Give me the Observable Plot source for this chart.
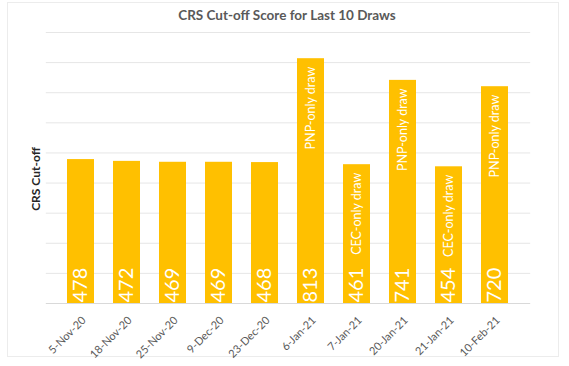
<!DOCTYPE html>
<html>
<head>
<meta charset="utf-8">
<script src="https://cdn.jsdelivr.net/npm/d3@7"></script>
<script src="https://cdn.jsdelivr.net/npm/@observablehq/plot@0.6"></script>
<style>
  html, body { margin: 0; padding: 0; background: #fff; }
  #wrap { position: relative; width: 569px; height: 366px; overflow: hidden; font-family: Lato, "Open Sans", sans-serif; }
  #frame { position: absolute; left: 7px; top: 2px; width: 552px; height: 355px; border: 1px solid #ececec; box-sizing: border-box; }
  #title { position: absolute; left: 0; top: 0; width: 574px; height: 30px; line-height: 30px; text-align: center; font-size: 13.5px; font-weight: bold; color: #595959; }
  #ylabel { position: absolute; left: 35px; top: 179px; transform: translate(-50%, -50%) rotate(-90deg); font-size: 12px; font-weight: bold; color: #262626; white-space: nowrap; }
  #chart { position: absolute; left: 0; top: 30px; }
</style>
</head>
<body>
<div id="wrap">
  <div id="frame"></div>
  <div id="title">CRS Cut-off Score for Last 10 Draws</div>
  <div id="chart"></div>
  <div id="ylabel">CRS Cut-off</div>
</div>
<script>
const dates = ["5-Nov-20", "18-Nov-20", "25-Nov-20", "9-Dec-20", "23-Dec-20", "6-Jan-21", "7-Jan-21", "20-Jan-21", "21-Jan-21", "10-Feb-21"];
const scores = [478, 472, 469, 469, 468, 813, 461, 741, 454, 720];
const notes = ["", "", "", "", "", "PNP-only draw", "CEC-only draw", "PNP-only draw", "CEC-only draw", "PNP-only draw"];
const gridTicks = [100, 200, 300, 400, 500, 600, 700, 800, 900];

const data = dates.map((d, i) => ({date: d, score: scores[i], note: notes[i]}));
const noted = data.filter(d => d.note);

const chart = Plot.plot({
  width: 569,
  height: 336,
  marginTop: 2,
  marginBottom: 63,
  marginLeft: 45.8,
  marginRight: 38.8,
  style: {fontFamily: "Lato, 'Open Sans', sans-serif", background: "transparent"},
  x: {domain: dates, padding: 0.41, axis: null},
  y: {domain: [0, 900], axis: null},
  marks: [
    Plot.ruleY(gridTicks, {stroke: "#e6e6e6", strokeWidth: 1}),
    Plot.barY(data, {x: "date", y: "score", fill: "#FFC000"}),
    Plot.ruleY([0], {stroke: "#d9d9d9", strokeWidth: 1}),
    Plot.text(data, {x: "date", y: 0, text: d => String(d.score), rotate: -90, textAnchor: "start", lineAnchor: "middle", dy: -1, fill: "white", fontSize: 20}),
    Plot.text(noted, {x: "date", y: "score", text: "note", rotate: -90, textAnchor: "end", lineAnchor: "middle", dy: 8, fill: "white", fontSize: 12.5}),
    Plot.text(data, {x: "date", y: 0, text: "date", rotate: -45, textAnchor: "end", lineAnchor: "middle", dx: 3, dy: 15, fill: "#595959", fontSize: 11})
  ]
});
document.getElementById("chart").appendChild(chart);
</script>
</body>
</html>
